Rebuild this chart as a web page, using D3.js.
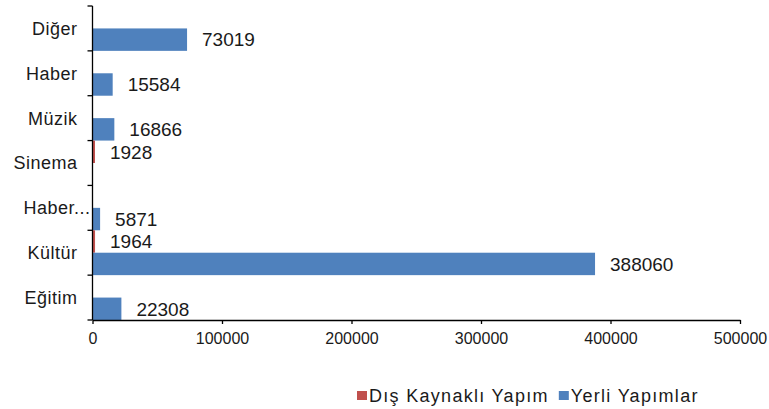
<!DOCTYPE html>
<html>
<head>
<meta charset="utf-8">
<script src="https://cdn.jsdelivr.net/npm/d3@7"></script>
<style>
  body { margin: 0; background: #fff; }
  svg text { font-family: "Liberation Sans", Arial, sans-serif; fill: #1a1a1a; }
</style>
</head>
<body>
<div id="chart"></div>
<script>
// Categories top to bottom, and the two series
const categories = ["Diğer", "Haber", "Müzik", "Sinema", "Haber...", "Kültür", "Eğitim"];
const disKaynakli = [null, null, null, 1928, null, 1964, null];
const yerliYapimlar = [73019, 15584, 16866, null, 5871, 388060, 22308];
const seriesNames = ["Dış Kaynaklı Yapım", "Yerli Yapımlar"];
const seriesColors = ["#C0504D", "#4F81BD"];
const xTicks = [0, 100000, 200000, 300000, 400000, 500000];

const width = 769, height = 409;
const margin = { top: 6, right: 29, bottom: 89, left: 92.5 };
const innerW = width - margin.left - margin.right;
const innerH = height - margin.top - margin.bottom;

const svg = d3.select("#chart")
  .append("svg")
    .attr("width", width)
    .attr("height", height);

const g = svg.append("g")
    .attr("transform", `translate(${margin.left},${margin.top})`);

const x = d3.scaleLinear()
  .domain([0, 500000])
  .range([0, innerW]);

const y = d3.scaleBand()
  .domain(categories)
  .range([0, innerH])
  .padding(0);

const ySub = d3.scaleBand()
  .domain(seriesNames)
  .range([0, y.bandwidth()])
  .padding(0);

// build rows from the arrays
const rows = categories.map((c, i) => ({
  cat: c,
  values: [
    { s: seriesNames[0], v: disKaynakli[i] },
    { s: seriesNames[1], v: yerliYapimlar[i] }
  ]
}));

const groups = g.selectAll(".grp")
  .data(rows)
  .join("g")
    .attr("class", "grp")
    .attr("transform", d => `translate(0,${y(d.cat)})`);

groups.selectAll("rect")
  .data(d => d.values.filter(e => e.v != null))
  .join("rect")
    .attr("x", x(0))
    .attr("y", d => ySub(d.s))
    .attr("width", d => x(d.v) - x(0))
    .attr("height", ySub.bandwidth())
    .attr("fill", d => seriesColors[seriesNames.indexOf(d.s)]);

// value labels
groups.selectAll("text.val")
  .data(d => d.values.filter(e => e.v != null))
  .join("text")
    .attr("class", "val")
    .attr("x", d => x(d.v) + 15)
    .attr("y", d => ySub(d.s) + ySub.bandwidth() / 2)
    .attr("dy", "0.36em")
    .style("font-size", "19px")
    .text(d => d.v);

// x axis
const xAxis = g.append("g")
  .attr("transform", `translate(0,${innerH})`)
  .call(d3.axisBottom(x)
    .tickValues(xTicks)
    .tickSize(4)
    .tickPadding(9)
    .tickSizeOuter(0)
    .tickFormat(d3.format("d")));
xAxis.selectAll("text").style("font-size", "16px").attr("fill", "#1a1a1a");
xAxis.selectAll("line, path").attr("stroke", "#000").attr("stroke-width", 1.3);

// y axis: ticks at band boundaries
const yAxis = g.append("g");
yAxis.append("line")
  .attr("x1", 0).attr("x2", 0)
  .attr("y1", 0).attr("y2", innerH)
  .attr("stroke", "#000").attr("stroke-width", 1.3);
yAxis.selectAll("line.tk")
  .data(categories.concat(["end"]))
  .join("line")
    .attr("class", "tk")
    .attr("x1", -5).attr("x2", 0)
    .attr("y1", (d, i) => i * y.step())
    .attr("y2", (d, i) => i * y.step())
    .attr("stroke", "#000").attr("stroke-width", 1.3);
yAxis.selectAll("text")
  .data(categories)
  .join("text")
    .attr("x", d => d.endsWith("...") ? -2 : -15)
    .attr("y", d => y(d) + y.bandwidth() / 2)
    .attr("dy", "0.36em")
    .attr("text-anchor", "end")
    .style("font-size", "18px")
    .style("letter-spacing", "0.5px")
    .text(d => d);

// legend
const legend = svg.append("g")
  .attr("transform", "translate(357,391)");
let lx = 0;
seriesNames.forEach((name, i) => {
  legend.append("rect")
    .attr("x", lx).attr("y", 0)
    .attr("width", 10).attr("height", 9)
    .attr("fill", seriesColors[i]);
  const t = legend.append("text")
    .attr("x", lx + 12)
    .attr("y", 5)
    .attr("dy", "0.36em")
    .style("font-size", "18px")
    .style("letter-spacing", "1.3px")
    .text(name);
  lx += 12 + t.node().getComputedTextLength() + 10;
});
</script>
</body>
</html>
